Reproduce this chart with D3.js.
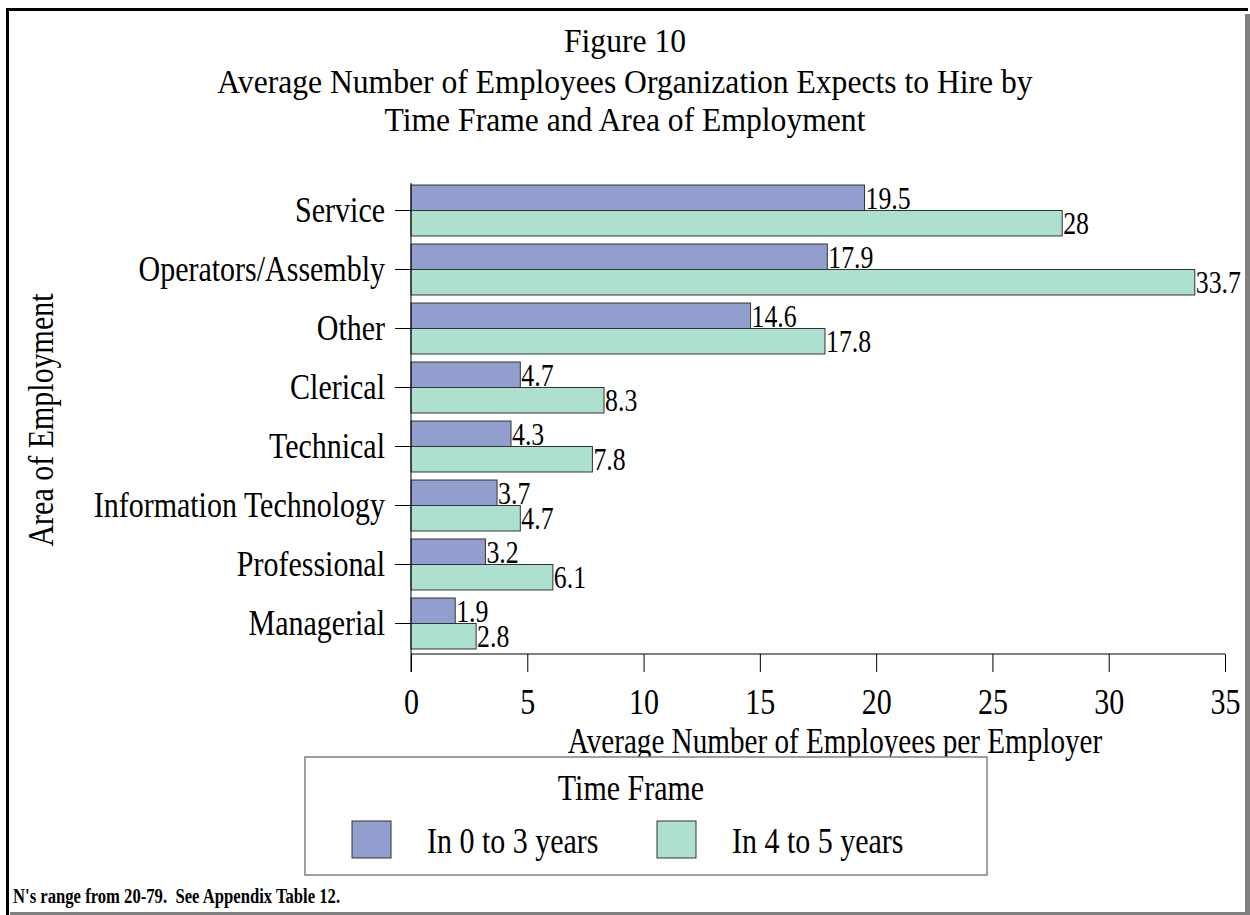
<!DOCTYPE html>
<html>
<head>
<meta charset="utf-8">
<script src="https://cdn.jsdelivr.net/npm/d3@7"></script>
<style>
  body { margin: 0; background: #fff; }
  svg text { font-family: "Liberation Serif", "Times New Roman", serif; fill: #000; }
</style>
</head>
<body>
<svg id="chart" width="1250" height="915"></svg>
<script>
// Areas of employment, top to bottom
const categories = ["Service", "Operators/Assembly", "Other", "Clerical", "Technical",
  "Information Technology", "Professional", "Managerial"];
// Average number of hires expected, per time frame
const near = [19.5, 17.9, 14.6, 4.7, 4.3, 3.7, 3.2, 1.9];
const later = [28, 33.7, 17.8, 8.3, 7.8, 4.7, 6.1, 2.8];
const seriesNames = ["In 0 to 3 years", "In 4 to 5 years"];
const xTicks = [0, 5, 10, 15, 20, 25, 30, 35];

const colors = ["#929fce", "#aee0d0"];
// text is drawn tall and narrow, like a condensed Times face
const SX = 0.833;
const svg = d3.select("#chart");

function label(parent, x, y, size, str, anchor, sx) {
  return parent.append("text")
    .attr("transform", `translate(${x},${y}) scale(${sx || SX},1)`)
    .attr("text-anchor", anchor || "start")
    .attr("font-size", size).text(str);
}

// page frame: black on top/left, gray shadow on right/bottom
svg.append("rect").attr("x", 1245).attr("y", 14).attr("width", 5).attr("height", 901).attr("fill", "#808080");
svg.append("rect").attr("x", 10).attr("y", 912).attr("width", 1240).attr("height", 3).attr("fill", "#808080");
svg.append("rect").attr("x", 6).attr("y", 8).attr("width", 1242).attr("height", 3).attr("fill", "#000");
svg.append("rect").attr("x", 6).attr("y", 8).attr("width", 3).attr("height", 907).attr("fill", "#000");

// title
const titleLines = ["Figure 10", "Average Number of Employees Organization Expects to Hire by",
  "Time Frame and Area of Employment"];
titleLines.forEach((t, i) => label(svg, 625, [52, 93, 131][i], 34, t, "middle", 0.93));

const x = d3.scaleLinear().domain([0, 35]).range([411, 1225]);
const y = d3.scaleBand().domain(categories).range([181, 653]).paddingInner(0.136).paddingOuter(0.068);
const ySub = d3.scaleBand().domain([0, 1]).range([0, y.bandwidth()]);

// bars
const rows = categories.map((c, i) => ({ c, vals: [near[i], later[i]] }));
const groups = svg.append("g").selectAll("g").data(rows).join("g")
  .attr("transform", d => `translate(0,${y(d.c)})`);
groups.selectAll("rect").data(d => d.vals).join("rect")
  .attr("x", x(0)).attr("y", (d, i) => ySub(i))
  .attr("width", d => x(d) - x(0)).attr("height", ySub.bandwidth())
  .attr("fill", (d, i) => colors[i]).attr("stroke", "#333").attr("stroke-width", 1);
groups.selectAll("text").data(d => d.vals).join("text")
  .attr("transform", (d, i) => `translate(${x(d) + 1},${ySub(i) + ySub.bandwidth() / 2 + 11}) scale(${SX},1)`)
  .attr("font-size", 31).text(d => d);

// x axis
const xAxis = svg.append("g").attr("transform", "translate(0,654)")
  .call(d3.axisBottom(x).tickValues(xTicks).tickSize(18).tickPadding(16).tickFormat(d3.format("d")));
xAxis.selectAll("text").attr("font-size", 36).attr("font-family", "Liberation Serif")
  .attr("transform", `scale(${SX},1)`);
xAxis.selectAll("line, path").attr("stroke", "#000");
xAxis.select(".domain").attr("d", `M${x(0)},0H${x(35)}`);

// y axis
const yAxis = svg.append("g").attr("transform", `translate(${x(0)},0)`)
  .call(d3.axisLeft(y).tickSize(16).tickPadding(10));
yAxis.selectAll("text").attr("font-size", 36).attr("font-family", "Liberation Serif").attr("dy", "0.33em")
  .attr("x", -26 / SX).attr("transform", `scale(${SX},1)`);
yAxis.selectAll("line, path").attr("stroke", "#000");
yAxis.select(".domain").attr("d", "M0,183V672");

// axis titles
label(svg, 835, 753, 35, "Average Number of Employees per Employer", "middle");
svg.append("text").attr("transform", `translate(53,420) rotate(-90) scale(${SX},1)`)
  .attr("text-anchor", "middle").attr("font-size", 36).text("Area of Employment");

// legend
const leg = svg.append("g");
leg.append("rect").attr("x", 305).attr("y", 757).attr("width", 682).attr("height", 118)
  .attr("fill", "#fff").attr("stroke", "#808080").attr("stroke-width", 1.5);
label(leg, 631, 800, 36, "Time Frame", "middle");
const items = leg.selectAll("g.item").data(seriesNames).join("g")
  .attr("transform", (d, i) => `translate(${[352, 657][i]},821)`);
items.append("rect").attr("width", 39).attr("height", 37)
  .attr("fill", (d, i) => colors[i]).attr("stroke", "#333");
items.append("text").attr("transform", `translate(75,32) scale(${SX},1)`)
  .attr("font-size", 36).text(d => d);

// footnote
label(svg, 13, 903, 20, "N's range from 20-79.  See Appendix Table 12.")
  .attr("font-weight", "bold").attr("xml:space", "preserve").style("white-space", "pre");
</script>
</body>
</html>
